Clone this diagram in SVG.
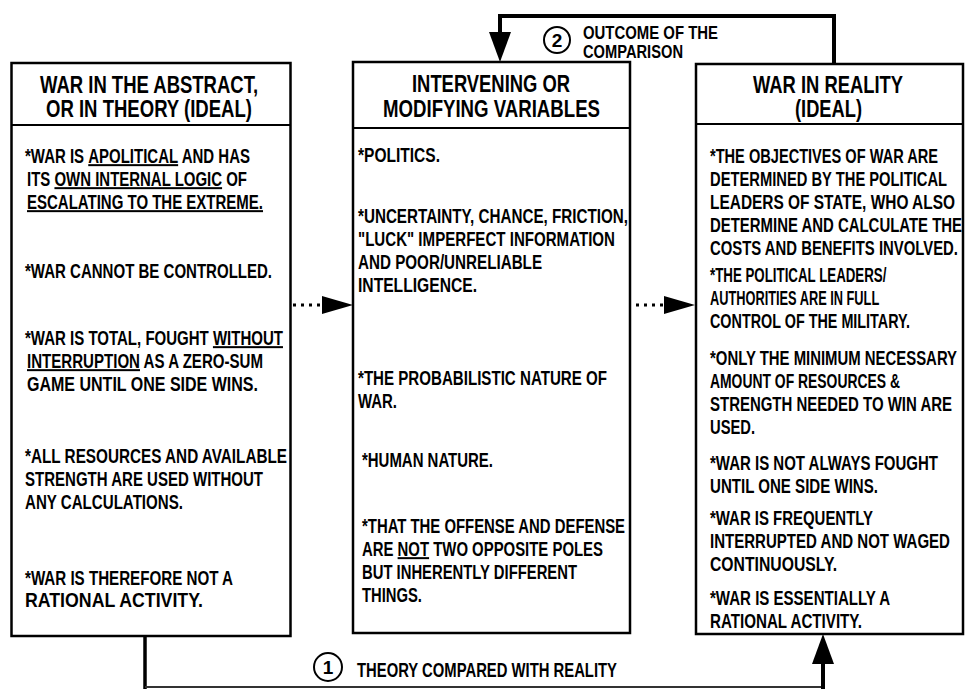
<svg xmlns="http://www.w3.org/2000/svg" width="966" height="689" viewBox="0 0 966 689">
<style>
.box{fill:#fff;stroke:#000;stroke-width:2.5}
.div{stroke:#000;stroke-width:2.2}
.h{font-family:"Liberation Sans",Arial,sans-serif;font-weight:bold;font-size:24px;fill:#000}
.t{font-family:"Liberation Sans",Arial,sans-serif;font-weight:bold;font-size:20px;fill:#000}
.s{font-family:"Liberation Sans",Arial,sans-serif;font-weight:bold;font-size:18px;fill:#000}
.n{font-family:"Liberation Sans",Arial,sans-serif;font-weight:bold;font-size:19px;fill:#000}
.u{text-decoration:underline}
.thick{fill:none;stroke:#000;stroke-width:4}
.dot{fill:none;stroke:#000;stroke-width:3;stroke-dasharray:3 5}
.circ{fill:#fff;stroke:#000;stroke-width:2}
</style>
<defs>
<marker id="ah" markerUnits="userSpaceOnUse" markerWidth="30" markerHeight="22" refX="0" refY="11" orient="auto" viewBox="0 0 30 22">
<path d="M0,0 L30,11 L0,22 z" fill="#000"/>
</marker>
<marker id="ah2" markerUnits="userSpaceOnUse" markerWidth="31" markerHeight="18" refX="0" refY="9" orient="auto" viewBox="0 0 31 18">
<path d="M0,0 L31,9 L0,18 z" fill="#000"/>
</marker>
</defs>

<g id="connectors">
<path class="thick" d="M834,64 V16 H500 V32" marker-end="url(#ah)"/>
<line class="dot" x1="293" y1="305" x2="322" y2="305" marker-end="url(#ah2)"/>
<line class="dot" x1="636" y1="305" x2="664" y2="305" marker-end="url(#ah2)"/>
<line x1="145" y1="636" x2="145" y2="689" stroke="#000" stroke-width="3.5"/>
<line x1="145" y1="687" x2="825" y2="687" stroke="#333" stroke-width="1.8"/>
<path class="thick" d="M823,689 V664" marker-end="url(#ah)"/>
<g id="label-outcome">
<circle class="circ" cx="557" cy="40" r="13"/>
<text class="n" x="557" y="47" text-anchor="middle">2</text>
<text class="s" transform="translate(583,38.5) scale(0.72,1)" textLength="187.5" lengthAdjust="spacingAndGlyphs">OUTCOME OF THE</text>
<text class="s" transform="translate(583,58) scale(0.72,1)" textLength="138.9" lengthAdjust="spacingAndGlyphs">COMPARISON</text>
</g>
<g id="label-theory">
<circle class="circ" cx="328" cy="667" r="14"/>
<text class="n" x="328" y="674" text-anchor="middle">1</text>
<text class="t" transform="translate(357,677) scale(0.72,1)" textLength="361.1" lengthAdjust="spacingAndGlyphs">THEORY COMPARED WITH REALITY</text>
</g>
</g>

<g id="node-abstract">
<rect class="box" x="11.5" y="63" width="279" height="573"/>
<line class="div" x1="11.5" y1="125" x2="290.5" y2="125"/>
<text class="h" transform="translate(40,92.5) scale(0.75,1)" textLength="290.7" lengthAdjust="spacingAndGlyphs">WAR IN THE ABSTRACT,</text>
<text class="h" transform="translate(46,117) scale(0.75,1)" textLength="274.7" lengthAdjust="spacingAndGlyphs">OR IN THEORY (IDEAL)</text>
<text class="t" transform="translate(25,163) scale(0.72,1)" textLength="312.5" lengthAdjust="spacingAndGlyphs">*WAR IS <tspan class="u">APOLITICAL</tspan> AND HAS</text>
<text class="t" transform="translate(27,186) scale(0.72,1)" textLength="305.6" lengthAdjust="spacingAndGlyphs">ITS <tspan class="u">OWN INTERNAL LOGIC</tspan> OF</text>
<text class="t" transform="translate(27,209) scale(0.72,1)" textLength="327.8" lengthAdjust="spacingAndGlyphs"><tspan class="u">ESCALATING TO THE EXTREME.</tspan></text>
<text class="t" transform="translate(25,278) scale(0.72,1)" textLength="343.1" lengthAdjust="spacingAndGlyphs">*WAR CANNOT BE CONTROLLED.</text>
<text class="t" transform="translate(25,345) scale(0.72,1)" textLength="358.3" lengthAdjust="spacingAndGlyphs">*WAR IS TOTAL, FOUGHT <tspan class="u">WITHOUT</tspan></text>
<text class="t" transform="translate(27,368) scale(0.72,1)" textLength="327.8" lengthAdjust="spacingAndGlyphs"><tspan class="u">INTERRUPTION</tspan> AS A ZERO-SUM</text>
<text class="t" transform="translate(27,391) scale(0.72,1)" textLength="320.8" lengthAdjust="spacingAndGlyphs">GAME UNTIL ONE SIDE WINS.</text>
<text class="t" transform="translate(25,463) scale(0.72,1)" textLength="363.9" lengthAdjust="spacingAndGlyphs">*ALL RESOURCES AND AVAILABLE</text>
<text class="t" transform="translate(25,486) scale(0.72,1)" textLength="330.6" lengthAdjust="spacingAndGlyphs">STRENGTH ARE USED WITHOUT</text>
<text class="t" transform="translate(25,509) scale(0.72,1)" textLength="219.4" lengthAdjust="spacingAndGlyphs">ANY CALCULATIONS.</text>
<text class="t" transform="translate(25,585) scale(0.72,1)" textLength="288.9" lengthAdjust="spacingAndGlyphs">*WAR IS THEREFORE NOT A</text>
<text class="t" transform="translate(25,607) scale(0.72,1)" textLength="247.2" lengthAdjust="spacingAndGlyphs">RATIONAL ACTIVITY.</text>
</g>

<g id="node-variables">
<rect class="box" x="353" y="62" width="277" height="571"/>
<line class="div" x1="353" y1="128" x2="630" y2="128"/>
<text class="h" transform="translate(412,92) scale(0.75,1)" textLength="210.7" lengthAdjust="spacingAndGlyphs">INTERVENING OR</text>
<text class="h" transform="translate(383,117) scale(0.75,1)" textLength="289.3" lengthAdjust="spacingAndGlyphs">MODIFYING VARIABLES</text>
<text class="t" transform="translate(358,162) scale(0.72,1)" textLength="113.9" lengthAdjust="spacingAndGlyphs">*POLITICS.</text>
<text class="t" transform="translate(358,223) scale(0.72,1)" textLength="375" lengthAdjust="spacingAndGlyphs">*UNCERTAINTY, CHANCE, FRICTION,</text>
<text class="t" transform="translate(358,246) scale(0.72,1)" textLength="356.9" lengthAdjust="spacingAndGlyphs">"LUCK" IMPERFECT INFORMATION</text>
<text class="t" transform="translate(358,269) scale(0.72,1)" textLength="255.6" lengthAdjust="spacingAndGlyphs">AND POOR/UNRELIABLE</text>
<text class="t" transform="translate(358,292) scale(0.72,1)" textLength="165.3" lengthAdjust="spacingAndGlyphs">INTELLIGENCE.</text>
<text class="t" transform="translate(358,385) scale(0.72,1)" textLength="345.8" lengthAdjust="spacingAndGlyphs">*THE PROBABILISTIC NATURE OF</text>
<text class="t" transform="translate(358,408) scale(0.72,1)" textLength="54.2" lengthAdjust="spacingAndGlyphs">WAR.</text>
<text class="t" transform="translate(362,467) scale(0.72,1)" textLength="181.9" lengthAdjust="spacingAndGlyphs">*HUMAN NATURE.</text>
<text class="t" transform="translate(362,533) scale(0.72,1)" textLength="365.3" lengthAdjust="spacingAndGlyphs">*THAT THE OFFENSE AND DEFENSE</text>
<text class="t" transform="translate(362,556) scale(0.72,1)" textLength="334.7" lengthAdjust="spacingAndGlyphs">ARE <tspan class="u">NOT</tspan> TWO OPPOSITE POLES</text>
<text class="t" transform="translate(362,579) scale(0.72,1)" textLength="298.6" lengthAdjust="spacingAndGlyphs">BUT INHERENTLY DIFFERENT</text>
<text class="t" transform="translate(362,602) scale(0.72,1)" textLength="83.3" lengthAdjust="spacingAndGlyphs">THINGS.</text>
</g>

<g id="node-reality">
<rect class="box" x="696" y="64" width="267" height="570"/>
<line class="div" x1="696" y1="124" x2="963" y2="124"/>
<text class="h" transform="translate(753,93) scale(0.75,1)" textLength="200" lengthAdjust="spacingAndGlyphs">WAR IN REALITY</text>
<text class="h" transform="translate(795,117) scale(0.75,1)" textLength="89.3" lengthAdjust="spacingAndGlyphs">(IDEAL)</text>
<text class="t" transform="translate(710,163) scale(0.72,1)" textLength="316.7" lengthAdjust="spacingAndGlyphs">*THE OBJECTIVES OF WAR ARE</text>
<text class="t" transform="translate(710,186) scale(0.72,1)" textLength="329.2" lengthAdjust="spacingAndGlyphs">DETERMINED BY THE POLITICAL</text>
<text class="t" transform="translate(710,209) scale(0.72,1)" textLength="340.3" lengthAdjust="spacingAndGlyphs">LEADERS OF STATE, WHO ALSO</text>
<text class="t" transform="translate(710,232) scale(0.72,1)" textLength="350" lengthAdjust="spacingAndGlyphs">DETERMINE AND CALCULATE THE</text>
<text class="t" transform="translate(710,255) scale(0.72,1)" textLength="344.4" lengthAdjust="spacingAndGlyphs">COSTS AND BENEFITS INVOLVED.</text>
<text class="t" transform="translate(710,282) scale(0.72,1)" textLength="245" lengthAdjust="spacingAndGlyphs">*THE POLITICAL LEADERS/</text>
<text class="t" transform="translate(710,305) scale(0.72,1)" textLength="235" lengthAdjust="spacingAndGlyphs">AUTHORITIES ARE IN FULL</text>
<text class="t" transform="translate(710,328) scale(0.72,1)" textLength="277.8" lengthAdjust="spacingAndGlyphs">CONTROL OF THE MILITARY.</text>
<text class="t" transform="translate(710,365) scale(0.72,1)" textLength="343.1" lengthAdjust="spacingAndGlyphs">*ONLY THE MINIMUM NECESSARY</text>
<text class="t" transform="translate(710,388) scale(0.72,1)" textLength="263.9" lengthAdjust="spacingAndGlyphs">AMOUNT OF RESOURCES &amp;</text>
<text class="t" transform="translate(710,411) scale(0.72,1)" textLength="336.1" lengthAdjust="spacingAndGlyphs">STRENGTH NEEDED TO WIN ARE</text>
<text class="t" transform="translate(710,434) scale(0.72,1)" textLength="62.5" lengthAdjust="spacingAndGlyphs">USED.</text>
<text class="t" transform="translate(710,470) scale(0.72,1)" textLength="316.7" lengthAdjust="spacingAndGlyphs">*WAR IS NOT ALWAYS FOUGHT</text>
<text class="t" transform="translate(710,493) scale(0.72,1)" textLength="233.3" lengthAdjust="spacingAndGlyphs">UNTIL ONE SIDE WINS.</text>
<text class="t" transform="translate(710,525) scale(0.72,1)" textLength="226.4" lengthAdjust="spacingAndGlyphs">*WAR IS FREQUENTLY</text>
<text class="t" transform="translate(710,548) scale(0.72,1)" textLength="333.3" lengthAdjust="spacingAndGlyphs">INTERRUPTED AND NOT WAGED</text>
<text class="t" transform="translate(710,571) scale(0.72,1)" textLength="176.4" lengthAdjust="spacingAndGlyphs">CONTINUOUSLY.</text>
<text class="t" transform="translate(710,605) scale(0.72,1)" textLength="250" lengthAdjust="spacingAndGlyphs">*WAR IS ESSENTIALLY A</text>
<text class="t" transform="translate(710,628) scale(0.72,1)" textLength="211.1" lengthAdjust="spacingAndGlyphs">RATIONAL ACTIVITY.</text>
</g>
</svg>
